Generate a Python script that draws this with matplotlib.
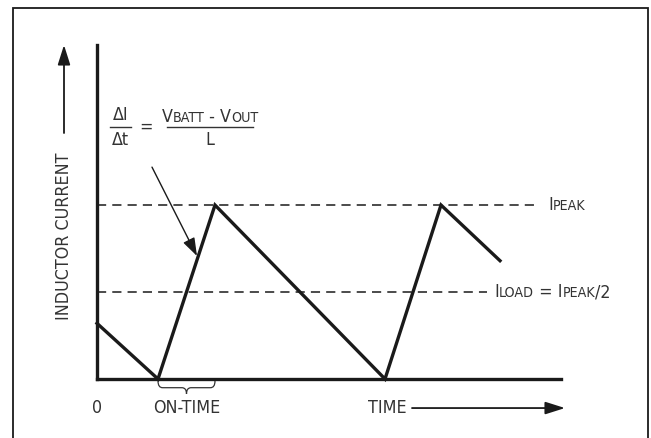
import matplotlib
matplotlib.use("Agg")
import matplotlib.pyplot as plt
from matplotlib.patches import Rectangle, PathPatch
from matplotlib.path import Path
from matplotlib.offsetbox import TextArea, HPacker, AnnotationBbox

plt.rcParams['font.family'] = ['DejaVu Sans']
plt.rcParams['font.stretch'] = 'condensed'

# --- data (normalised: IPEAK = 1) ---
time_pts = [0.0, 0.61, 1.18, 2.88, 3.44, 4.03]
current = [0.32, 0.0, 1.0, 0.0, 1.0, 0.68]
i_peak = 1.0
i_load = 0.5
peak_line_end = 4.38
load_line_end = 3.90
on_time = (0.61, 1.18)

TXT = '#333333'
LN = '#1a1a1a'

W, H = 651, 438
fig = plt.figure(figsize=(W / 100, H / 100), dpi=100)
fig.patches.append(Rectangle((13 / W, -0.05), (648 - 13) / W, 1.05 - 8 / H,
                             transform=fig.transFigure, fill=False,
                             edgecolor=LN, linewidth=1.3))

ax = fig.add_axes([97 / W, (H - 379) / H, (561 - 97) / W, (379 - 45) / H])
ax.set_xlim(0, 4.64)
ax.set_ylim(0, 1.92)
for s in ['top', 'right']:
    ax.spines[s].set_visible(False)
for s in ['left', 'bottom']:
    ax.spines[s].set_linewidth(2.4)
    ax.spines[s].set_color(LN)
ax.set_xticks([])
ax.set_yticks([])
ax.patch.set_alpha(0)

ax.plot(time_pts, current, color=LN, lw=2.4, solid_joinstyle='miter', clip_on=False)
ax.plot([0, peak_line_end], [i_peak, i_peak], color=LN, lw=1.1, dashes=(6, 4))
ax.plot([0, load_line_end], [i_load, i_load], color=LN, lw=1.1, dashes=(6, 4))

BIG, SMALL = 12.8, 10.2


def packed(parts, xy, box_align=(0, 0.5)):
    areas = [TextArea(t, textprops=dict(fontsize=fs, color=TXT, fontstretch='condensed'))
             for t, fs in parts]
    box = HPacker(children=areas, align="baseline", pad=0, sep=0)
    ab = AnnotationBbox(box, xy, xycoords='data', frameon=False,
                        box_alignment=box_align, pad=0, annotation_clip=False)
    ax.add_artist(ab)


packed([("I", BIG), ("PEAK", SMALL)], (4.51, i_peak))
packed([("I", BIG), ("LOAD", SMALL), (" = I", BIG), ("PEAK", SMALL), ("/2", BIG)], (3.97, i_load))

# formula
ax.text(0.235, 1.517, "ΔI", fontsize=BIG, color=TXT, ha='center', va='center')
ax.text(0.235, 1.374, "Δt", fontsize=BIG, color=TXT, ha='center', va='center')
ax.plot([0.13, 0.34], [1.448, 1.448], color=TXT, lw=1.0, clip_on=False)
ax.text(0.49, 1.448, "=", fontsize=BIG, color=TXT, ha='center', va='center')
packed([("V", BIG), ("BATT", SMALL), (" - V", BIG), ("OUT", SMALL)], (1.13, 1.506), box_align=(0.5, 0.5))
ax.plot([0.70, 1.56], [1.448, 1.448], color=TXT, lw=1.0, clip_on=False)
ax.text(1.13, 1.374, "L", fontsize=BIG, color=TXT, ha='center', va='center')

ax.annotate("", xy=(1.00, 0.707), xytext=(0.55, 1.218),
            arrowprops=dict(arrowstyle='-|>,head_length=1.1,head_width=0.38',
                            color=LN, lw=1.0, shrinkA=0, shrinkB=0),
            annotation_clip=False)

ax.text(-0.33, 0.82, "INDUCTOR CURRENT", rotation=90, fontsize=BIG, color=TXT,
        ha='center', va='center')
ax.annotate("", xy=(-0.33, 1.92), xytext=(-0.33, 1.414),
            arrowprops=dict(arrowstyle='-|>,head_length=1.2,head_width=0.38',
                            color=LN, lw=1.3, shrinkA=0, shrinkB=0),
            annotation_clip=False)

ax.text(0.0, -0.167, "0", fontsize=BIG, color=TXT, ha='center', va='center')
ax.text(sum(on_time) / 2, -0.167, "ON-TIME", fontsize=BIG, color=TXT, ha='center', va='center')
ax.text(3.10, -0.167, "TIME", fontsize=BIG, color=TXT, ha='right', va='center')
ax.annotate("", xy=(4.68, -0.167), xytext=(3.15, -0.167),
            arrowprops=dict(arrowstyle='-|>,head_length=1.2,head_width=0.38',
                            color=LN, lw=1.3, shrinkA=0, shrinkB=0),
            annotation_clip=False)

x0, x1 = on_time
xm = (x0 + x1) / 2
yt, ym, yb = -0.011, -0.05, -0.086
dx = (x1 - x0) * 0.08
verts = [(x0, yt), (x0, ym), (x0 + dx, ym), (xm - dx, ym), (xm, ym), (xm, yb),
         (xm, ym), (xm + dx, ym), (x1 - dx, ym), (x1, ym), (x1, yt)]
codes = [Path.MOVETO, Path.CURVE3, Path.CURVE3, Path.LINETO, Path.CURVE3, Path.CURVE3,
         Path.CURVE3, Path.CURVE3, Path.LINETO, Path.CURVE3, Path.CURVE3]
ax.add_patch(PathPatch(Path(verts, codes), fill=False, edgecolor=TXT, lw=0.9, clip_on=False))

fig.savefig("out.png", dpi=100)
